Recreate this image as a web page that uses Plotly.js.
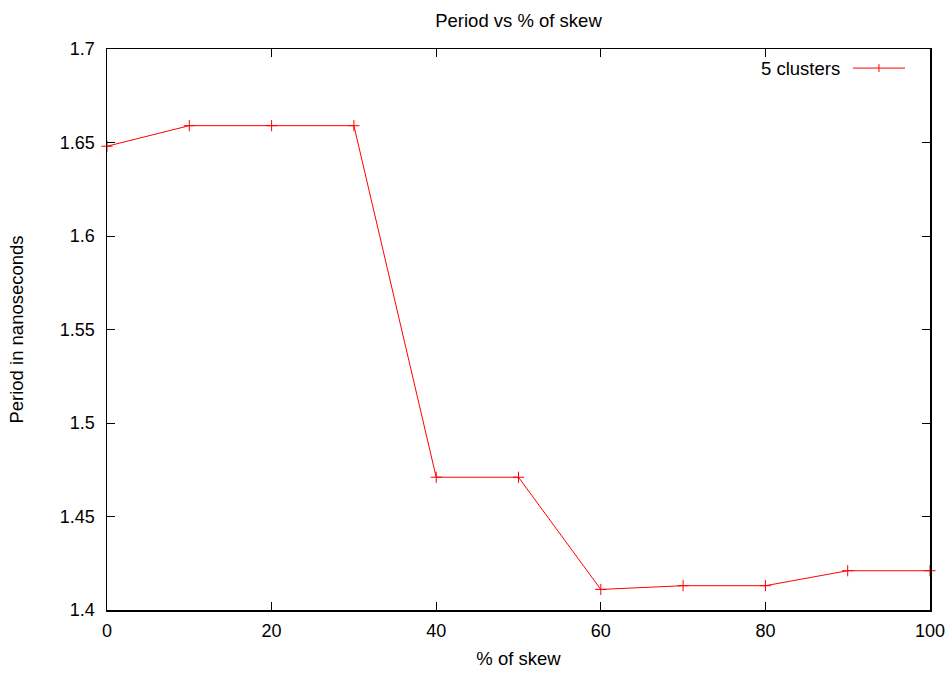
<!DOCTYPE html>
<html><head><meta charset="utf-8">
<script src="https://cdn.plot.ly/plotly-3.0.1.min.js"></script>
<style>html,body{margin:0;padding:0;background:#fff}#chart{width:952px;height:673px}</style>
</head><body><div id="chart"></div>
<script>
const skew = [0, 10, 20, 30, 40, 50, 60, 70, 80, 90, 100];
const period = [1.648, 1.659, 1.659, 1.659, 1.471, 1.471, 1.411, 1.413, 1.413, 1.421, 1.421];
const seriesName = "5 clusters";
const xTicks = [0, 20, 40, 60, 80, 100];
const yTicks = [1.4, 1.45, 1.5, 1.55, 1.6, 1.65, 1.7];

const font = {family: "Liberation Sans, Arial, sans-serif", color: "#000"};
const trace = {
  x: skew, y: period, type: "scatter", mode: "lines+markers", name: seriesName,
  line: {color: "#ff0000", width: 1},
  marker: {symbol: "cross-thin-open", size: 8, color: "#ff0000", line: {color: "#ff0000", width: 1}},
  cliponaxis: false, showlegend: false
};
const axisCommon = {
  showline: true, linecolor: "#000", linewidth: 1.5, mirror: "ticks",
  ticks: "inside", ticklen: 8, tickcolor: "#000", tickwidth: 1,
  showgrid: false, zeroline: false, tickfont: {...font, size: 18}
};
const layout = {
  width: 952, height: 673,
  margin: {l: 107, r: 22, t: 49, b: 63},
  paper_bgcolor: "#fff", plot_bgcolor: "#fff",
  font: font,
  title: {text: "Period vs % of skew", font: {...font, size: 18.5}, x: 0.5, xref: "paper", xanchor: "center", y: 0.970, yanchor: "middle"},
  xaxis: {...axisCommon, range: [0, 100], tickvals: xTicks, ticktext: xTicks.map(String), ticklabelstandoff: 4,
    title: {text: "% of skew", font: {...font, size: 18.5}, standoff: 12}},
  yaxis: {...axisCommon, range: [1.4, 1.7], tickvals: yTicks, ticktext: yTicks.map(v => String(v)), ticklabelstandoff: 7,
    title: {text: "Period in nanoseconds", font: {...font, size: 18.5}, standoff: 31}},
  annotations: [{xref: "paper", yref: "paper", x: 0.893, y: 0.966, xanchor: "right", yanchor: "middle",
    text: seriesName, showarrow: false, font: {...font, size: 18.5}}],
  shapes: [
    {type: "line", xref: "paper", yref: "paper", x0: 0.9064, x1: 0.9696, y0: 0.966, y1: 0.966, line: {color: "#ff0000", width: 1}},
    {type: "line", xref: "paper", yref: "paper", x0: 0.9380, x1: 0.9380, y0: 0.959, y1: 0.973, line: {color: "#ff0000", width: 1}}
  ]
};
Plotly.newPlot("chart", [trace], layout, {displayModeBar: false, staticPlot: true});
</script></body></html>
